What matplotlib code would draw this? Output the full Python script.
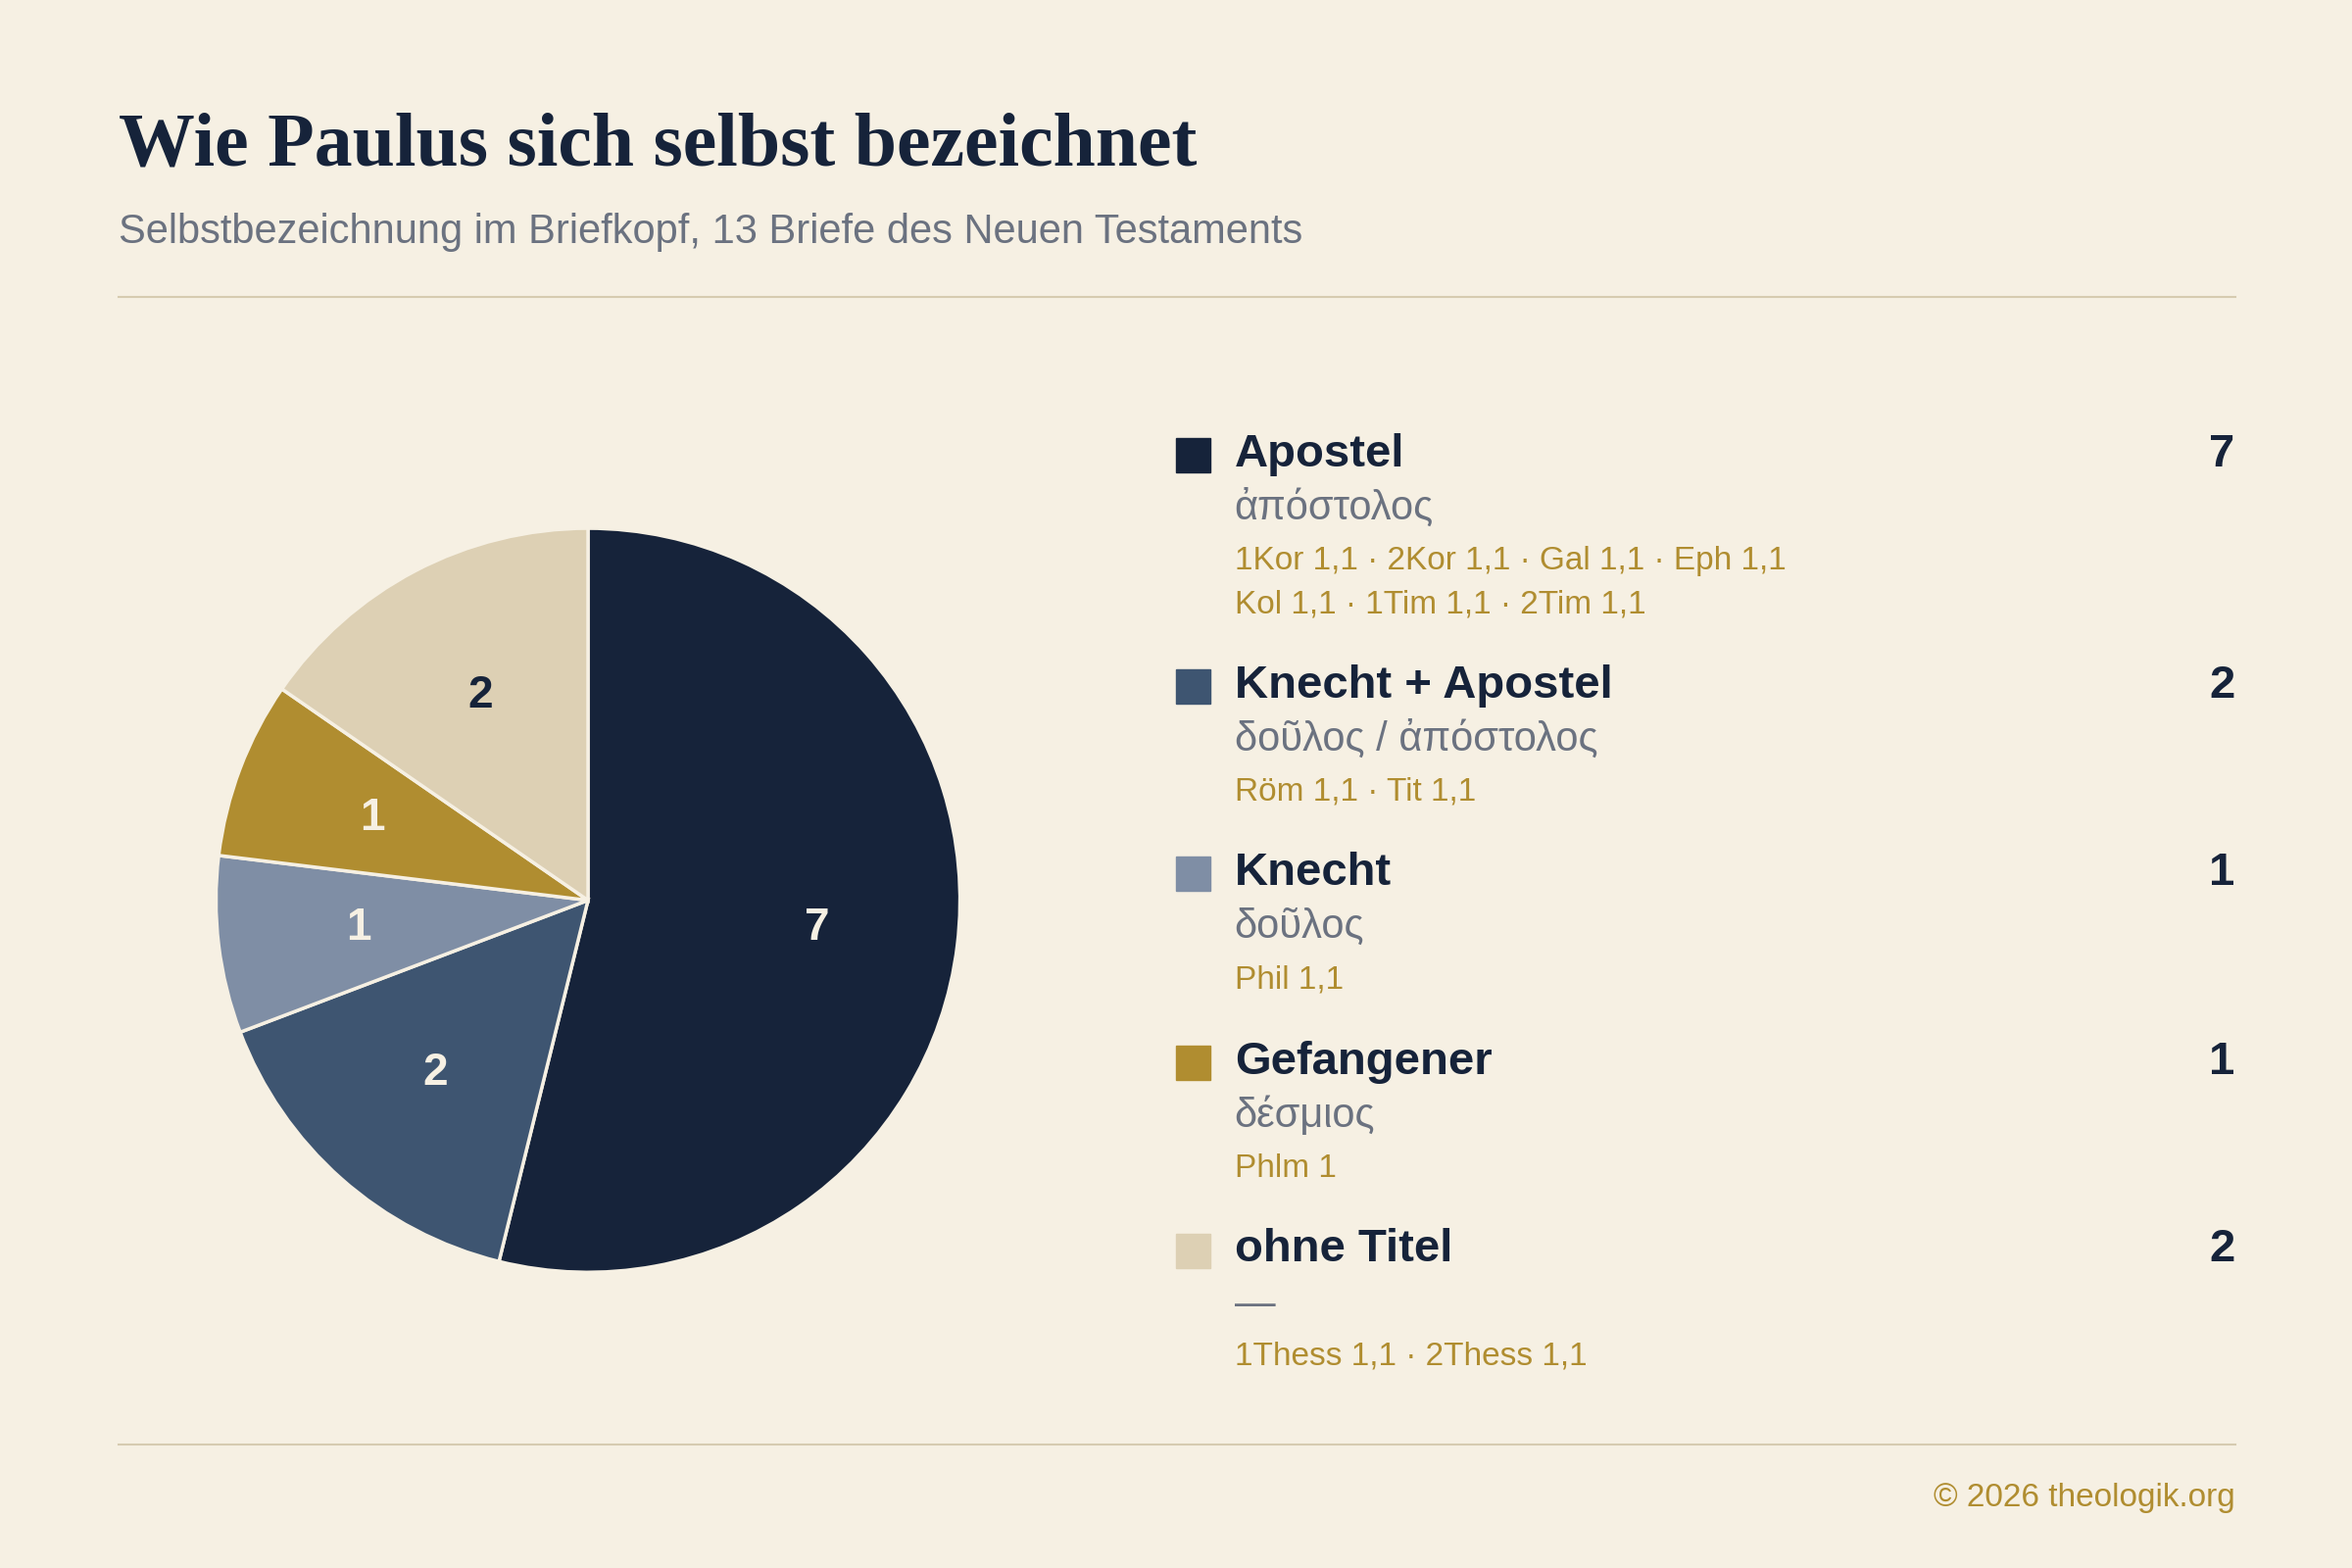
import matplotlib.pyplot as plt
from matplotlib.lines import Line2D
from matplotlib.patches import Rectangle

# ── Data ──
categories = ["Apostel", "Knecht + Apostel", "Knecht", "Gefangener", "ohne Titel"]
counts = [7, 2, 1, 1, 2]
greek = ["ἀπόστολος", "δοῦλος / ἀπόστολος", "δοῦλος", "δέσμιος", "—"]
refs = [
    ["1Kor 1,1 · 2Kor 1,1 · Gal 1,1 · Eph 1,1", "Kol 1,1 · 1Tim 1,1 · 2Tim 1,1"],
    ["Röm 1,1 · Tit 1,1"],
    ["Phil 1,1"],
    ["Phlm 1"],
    ["1Thess 1,1 · 2Thess 1,1"],
]
colors = ["#16233A", "#3E5571", "#7F8EA5", "#B08D30", "#DDD0B4"]
label_colors = ["#F6F0E3", "#F6F0E3", "#F6F0E3", "#F6F0E3", "#16233A"]

BG = "#F6F0E3"
DARK = "#16233A"
GOLD = "#B08D30"
GREY = "#6B7280"
RULE = "#D6CBB0"
SANS = ["Liberation Sans", "DejaVu Sans"]

W, H = 1568, 1045  # layout coordinates (reference pixels)


def fx(x):
    return x / W


def fy(y):
    return 1 - y / H


fig = plt.figure(figsize=(24, 16), dpi=100, facecolor=BG)

# ── Header ──
fig.text(fx(79), fy(98), "Wie Paulus sich selbst bezeichnet", fontsize=56,
         fontweight="bold", family=["Liberation Serif", "DejaVu Serif"],
         color=DARK, va="center")
fig.text(fx(79), fy(155), "Selbstbezeichnung im Briefkopf, 13 Briefe des Neuen Testaments",
         fontsize=30, family=SANS, color=GREY, va="center")
for yy in (198, 963):
    fig.add_artist(Line2D([fx(79), fx(1490)], [fy(yy), fy(yy)], color=RULE, lw=1.5))

# ── Pie ──
cx, cy, r = 392, 600, 248
ax = fig.add_axes([fx(cx - r), fy(cy + r), 2 * r / W, 2 * r / H])
ax.set_facecolor(BG)
wedges, texts = ax.pie(counts, colors=colors, startangle=90, counterclock=False,
                       labels=[str(c) for c in counts], labeldistance=0.62,
                       radius=1, frame=False,
                       wedgeprops=dict(edgecolor=BG, linewidth=2.5),
                       textprops=dict(fontsize=33, fontweight="bold", family=SANS))
for t, c in zip(texts, label_colors):
    t.set_color(c)
    t.set_ha("center")
    t.set_va("center")
ax.set_xlim(-1, 1)
ax.set_ylim(-1, 1)
ax.set_aspect("equal")
ax.axis("off")

# ── Legend ──
name_y = [303, 457, 582, 708, 833]
for i, cat in enumerate(categories):
    y0 = name_y[i]
    fig.add_artist(Rectangle((fx(784), fy(y0 + 12)), 23 / W, 23 / H,
                             color=colors[i], transform=fig.transFigure))
    fig.text(fx(823), fy(y0), cat, fontsize=34, fontweight="bold", family=SANS,
             color=DARK, va="center")
    fig.text(fx(1490), fy(y0), str(counts[i]), fontsize=34, fontweight="bold",
             family=SANS, color=DARK, va="center", ha="right")
    fig.text(fx(823), fy(y0 + 36), greek[i], fontsize=30, family=SANS,
             color=GREY, va="center")
    for j, line in enumerate(refs[i]):
        fig.text(fx(823), fy(y0 + 71 + 29 * j), line, fontsize=24, family=SANS,
                 color=GOLD, va="center")

# ── Footer ──
fig.text(fx(1490), fy(998), "© 2026 theologik.org", fontsize=24, family=SANS,
         color=GOLD, va="center", ha="right")

fig.savefig("out.png", dpi=100, facecolor=BG)
